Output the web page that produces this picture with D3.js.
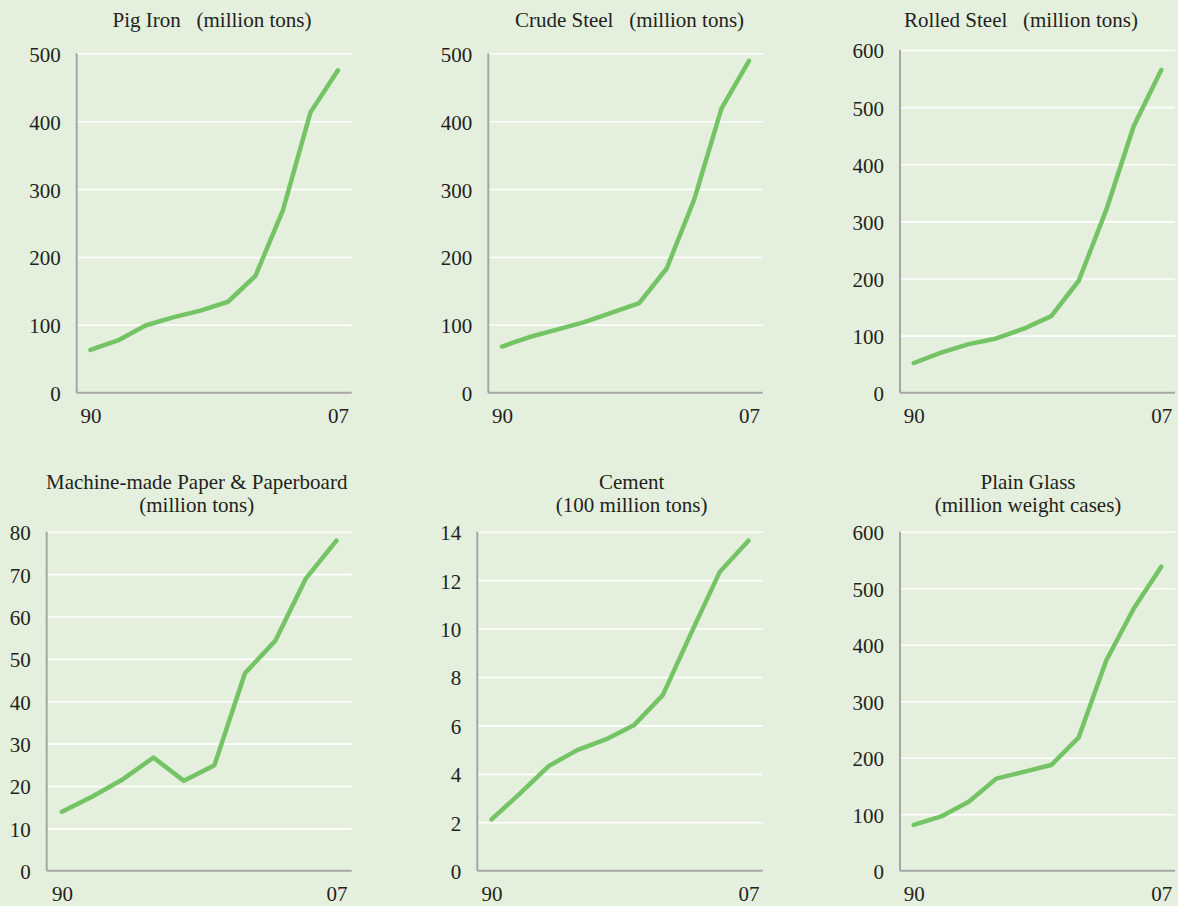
<!DOCTYPE html>
<html><head><meta charset="utf-8">
<script src="https://cdn.jsdelivr.net/npm/d3@7"></script>
<style>
html,body{margin:0;padding:0;background:#e4f0dd;}
svg{display:block;}
text{font-family:"Liberation Serif","Times New Roman",serif;fill:#231f20;}
</style></head>
<body>
<svg id="chart" width="1178" height="906"></svg>
<script>
// ---- data ----
const categories = ["1990","1992","1994","1996","1998","2000","2002","2004","2006","2007"];
const xTickLabels = ["90","07"];
const pigIron     = [63, 77, 99, 111, 121, 134, 172, 269, 413, 475];
const crudeSteel  = [68, 82, 93, 104, 118, 132, 183, 284, 419, 489];
const rolledSteel = [52, 70, 85, 95, 112, 134, 196, 320, 467, 565];
const paper       = [13.9, 17.5, 21.6, 26.7, 21.2, 24.9, 46.6, 54.3, 69.0, 77.9];
const cement      = [2.12, 3.19, 4.32, 4.98, 5.42, 6.02, 7.25, 9.83, 12.35, 13.63];
const plainGlass  = [81, 96, 122, 163, 175, 187, 236, 372, 464, 538];
const titles = [
  ["Pig Iron   (million tons)"],
  ["Crude Steel   (million tons)"],
  ["Rolled Steel   (million tons)"],
  ["Machine-made Paper & Paperboard", "(million tons)"],
  ["Cement", "(100 million tons)"],
  ["Plain Glass", "(million weight cases)"]
];
const yMaxes = [500, 500, 600, 80, 14, 600];
const yStepValues = [100, 100, 100, 10, 2, 100];
const seriesList = [pigIron, crudeSteel, rolledSteel, paper, cement, plainGlass];

// ---- layout ----
const layout = [
  {l:76.7,  r:351.7, t:53.3, b:392.7, tx:212,   ty:[27]},
  {l:488.3, r:762.7, t:53.3, b:392.7, tx:629.5, ty:[27]},
  {l:900,   r:1175,  t:50,   b:392.7, tx:1021,  ty:[27]},
  {l:46.7,  r:351.7, t:531.7, b:870.7, tx:196.7, ty:[488.5, 511.5]},
  {l:477.3, r:762.7, t:531.7, b:870.7, tx:631.7, ty:[488.5, 511.5]},
  {l:900,   r:1175,  t:531.7, b:870.7, tx:1028,  ty:[488.5, 511.5]}
];
const FS = 21;
const svg = d3.select("#chart");

seriesList.forEach((vals, i) => {
  const L = layout[i];
  const g = svg.append("g");
  const x = d3.scalePoint().domain(categories).range([L.l, L.r]).padding(0.5);
  const y = d3.scaleLinear().domain([0, yMaxes[i]]).range([L.b, L.t]);
  const ticks = d3.range(0, yMaxes[i] + yStepValues[i] / 2, yStepValues[i]);

  // gridlines
  g.append("g").attr("transform", `translate(${L.l},0)`)
    .call(d3.axisLeft(y).tickValues(ticks.filter(v => v > 0)).tickSize(-(L.r - L.l)).tickFormat(""))
    .call(s => s.select(".domain").remove())
    .call(s => s.selectAll("line").attr("stroke", "#ffffff").attr("stroke-width", 1.6));

  // y labels
  g.append("g").attr("transform", `translate(${L.l},0)`)
    .call(d3.axisLeft(y).tickValues(ticks).tickSize(0).tickPadding(16))
    .call(s => s.select(".domain").remove())
    .call(s => s.selectAll("text").attr("font-size", FS).attr("font-family", null).attr("fill", "#231f20").attr("dy", "0.38em"));

  // axis lines
  g.append("line").attr("x1", L.l).attr("x2", L.l).attr("y1", L.t).attr("y2", L.b)
    .attr("stroke", "#a6a6a6").attr("stroke-width", 2);
  g.append("line").attr("x1", L.l).attr("x2", L.r).attr("y1", L.b).attr("y2", L.b)
    .attr("stroke", "#a6a6a6").attr("stroke-width", 2);

  // x labels
  const firstLast = [categories[0], categories[categories.length - 1]];
  g.append("g").attr("transform", `translate(0,${L.b})`)
    .call(d3.axisBottom(x).tickValues(firstLast).tickSize(0).tickPadding(15.5)
      .tickFormat((d, j) => xTickLabels[j]))
    .call(s => s.select(".domain").remove())
    .call(s => s.selectAll("text").attr("font-size", FS).attr("font-family", null).attr("fill", "#231f20"));

  // line
  const line = d3.line().x((d, j) => x(categories[j])).y(d => y(d));
  g.append("path").datum(vals).attr("d", line)
    .attr("fill", "none").attr("stroke", "#74c365").attr("stroke-width", 4.5)
    .attr("stroke-linejoin", "round").attr("stroke-linecap", "round");

  // title
  titles[i].forEach((t, k) => {
    g.append("text").attr("x", L.tx).attr("y", L.ty[k]).attr("text-anchor", "middle")
      .attr("font-size", FS).style("white-space", "pre").text(t);
  });
});
</script>
</body></html>
